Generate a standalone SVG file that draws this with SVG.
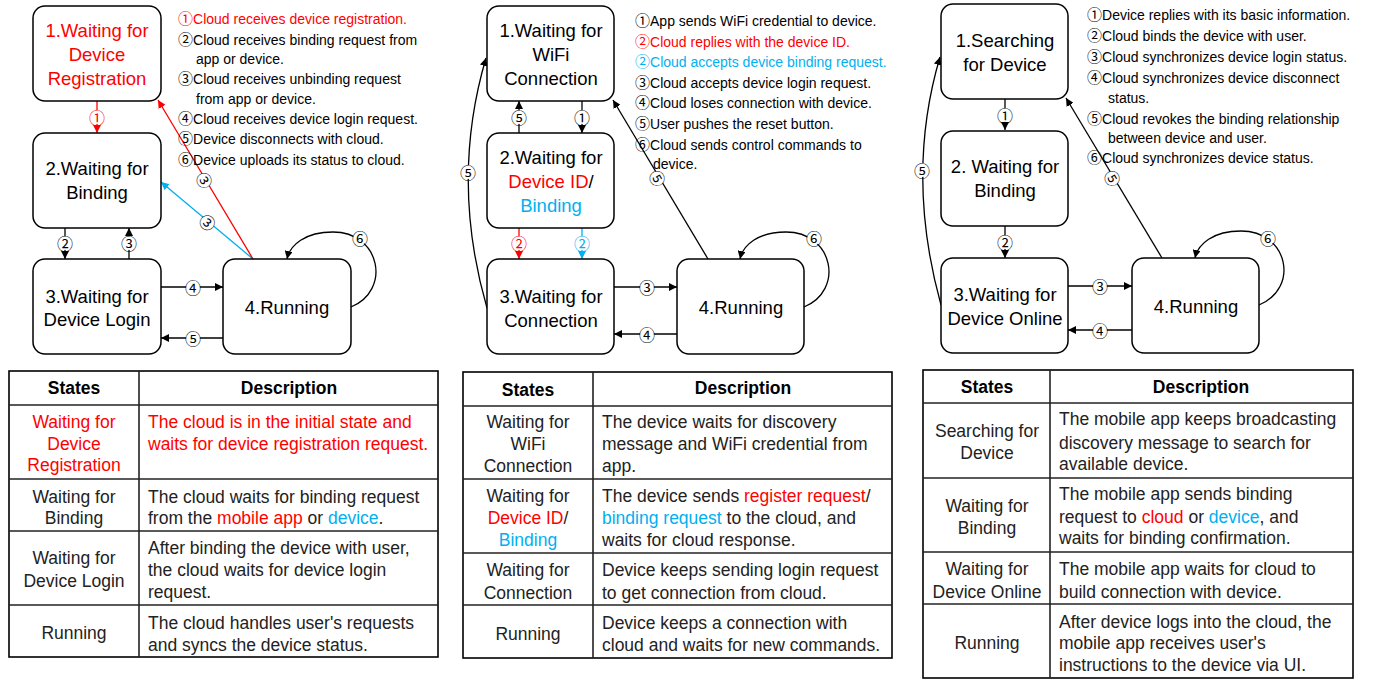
<svg xmlns="http://www.w3.org/2000/svg" width="1376" height="679" viewBox="0 0 1376 679">
<defs>
<style>
.node rect{fill:#fff;stroke:#000;stroke-width:1.5}
.nt{font-family:"Liberation Sans","Noto Sans CJK SC",sans-serif;font-size:18.5px;text-anchor:middle;fill:#000}
.an{font-family:"Liberation Sans","Noto Sans CJK SC",sans-serif;font-size:14px;fill:#000}
.cd{font-family:"Noto Sans CJK SC",sans-serif;font-size:15px}
.lb{font-family:"Noto Sans CJK SC","DejaVu Sans",sans-serif;font-size:16px;text-anchor:middle;dominant-baseline:central;fill:#000}
.lbg{fill:#fff;stroke:none}
.c{stroke:#000;stroke-width:1.3;fill:none}
.cr{stroke:#f00}
.cb{stroke:#00b0f0}
.tt{font-family:"Liberation Sans","Noto Sans CJK SC",sans-serif;font-size:17.5px;fill:#222}
.tc{text-anchor:middle}
.th{font-family:"Liberation Sans",sans-serif;font-size:17.5px;font-weight:bold;fill:#000;text-anchor:middle}
.tb{fill:none;stroke:#000;stroke-width:1.6}
.tl{stroke:#222;stroke-width:1.6}
.red{fill:#f00}
.blue{fill:#00b0f0}
</style>
<marker id="ak" viewBox="0 0 8 8" refX="8" refY="4" markerWidth="8" markerHeight="8" markerUnits="userSpaceOnUse" orient="auto"><path d="M0,0 L8,4 L0,8 z" fill="#000"/></marker>
<marker id="ar" viewBox="0 0 8 8" refX="8" refY="4" markerWidth="8" markerHeight="8" markerUnits="userSpaceOnUse" orient="auto"><path d="M0,0 L8,4 L0,8 z" fill="#f00"/></marker>
<marker id="ab" viewBox="0 0 8 8" refX="8" refY="4" markerWidth="8" markerHeight="8" markerUnits="userSpaceOnUse" orient="auto"><path d="M0,0 L8,4 L0,8 z" fill="#00b0f0"/></marker>
</defs>
<rect width="1376" height="679" fill="#fff"/>

<!-- ============ LEFT DIAGRAM ============ -->
<g id="connectors-left">
<line class="c cr" x1="97" y1="101" x2="97" y2="133" marker-end="url(#ar)"/>
<line class="c" x1="65" y1="228" x2="65" y2="259" marker-end="url(#ak)"/>
<line class="c" x1="129" y1="259" x2="129" y2="228" marker-end="url(#ak)"/>
<line class="c" x1="161" y1="287" x2="223" y2="287" marker-end="url(#ak)"/>
<line class="c" x1="223" y1="338" x2="161" y2="338" marker-end="url(#ak)"/>
<path class="c" d="M351,307 C392,290 380,232 333,232 C305,232 290,245 287,259" marker-end="url(#ak)"/>
<line class="c cb" x1="253" y1="259" x2="161" y2="182" marker-end="url(#ab)"/>
<line class="c cr" x1="253" y1="259" x2="158" y2="100" marker-end="url(#ar)"/>
<circle class="lbg" cx="97" cy="117" r="7"/><text class="lb red" x="97" y="117">①</text>
<circle class="lbg" cx="65" cy="243" r="7"/><text class="lb" x="65" y="243">②</text>
<circle class="lbg" cx="129" cy="243" r="7"/><text class="lb" x="129" y="243">③</text>
<circle class="lbg" cx="193" cy="287" r="7"/><text class="lb" x="193" y="287">④</text>
<circle class="lbg" cx="193" cy="338" r="7"/><text class="lb" x="193" y="338">⑤</text>
<circle class="lbg" cx="360" cy="238" r="7"/><text class="lb" x="360" y="238">⑥</text>
<circle class="lbg" cx="208" cy="222" r="7"/><text class="lb" x="208" y="222" transform="rotate(40 208 222)">③</text>
<circle class="lbg" cx="205" cy="180" r="7"/><text class="lb" x="205" y="180" transform="rotate(59 205 180)">③</text>
</g>
<g id="L1" class="node"><rect x="33" y="6" width="128" height="95" rx="12"/>
<text class="nt red" x="97" y="36.5">1.Waiting for</text><text class="nt red" x="97" y="60.5">Device</text><text class="nt red" x="97" y="84.5">Registration</text></g>
<g id="L2" class="node"><rect x="33" y="133" width="128" height="95" rx="12"/>
<text class="nt" x="97" y="174.5">2.Waiting for</text><text class="nt" x="97" y="198.5">Binding</text></g>
<g id="L3" class="node"><rect x="33" y="259" width="128" height="95" rx="12"/>
<text class="nt" x="97" y="302.5">3.Waiting for</text><text class="nt" x="97" y="325.5">Device Login</text></g>
<g id="L4" class="node"><rect x="223" y="259" width="128" height="95" rx="12"/>
<text class="nt" x="287" y="313.5">4.Running</text></g>
<g id="notes-left">
<text class="an red" x="178" y="24"><tspan class="cd">①</tspan>Cloud receives device registration.</text>
<text class="an" x="178" y="45"><tspan class="cd">②</tspan>Cloud receives binding request from</text>
<text class="an" x="196" y="64">app or device.</text>
<text class="an" x="178" y="84"><tspan class="cd">③</tspan>Cloud receives unbinding request</text>
<text class="an" x="196" y="104">from app or device.</text>
<text class="an" x="178" y="124"><tspan class="cd">④</tspan>Cloud receives device login request.</text>
<text class="an" x="178" y="144"><tspan class="cd">⑤</tspan>Device disconnects with cloud.</text>
<text class="an" x="178" y="165"><tspan class="cd">⑥</tspan>Device uploads its status to cloud.</text>
</g>

<!-- ============ MIDDLE DIAGRAM ============ -->
<g id="connectors-middle">
<line class="c" x1="519" y1="133" x2="519" y2="101" marker-end="url(#ak)"/>
<line class="c" x1="582" y1="101" x2="582" y2="133" marker-end="url(#ak)"/>
<line class="c cr" x1="519" y1="228" x2="519" y2="259" marker-end="url(#ar)"/>
<line class="c cb" x1="582" y1="228" x2="582" y2="259" marker-end="url(#ab)"/>
<line class="c" x1="614" y1="287" x2="677" y2="287" marker-end="url(#ak)"/>
<line class="c" x1="677" y1="334" x2="614" y2="334" marker-end="url(#ak)"/>
<path class="c" d="M804,307 C845,290 833,232 786,232 C758,232 743,245 740,259" marker-end="url(#ak)"/>
<path class="c" d="M487,308 Q450,180 486,58" marker-end="url(#ak)"/>
<line class="c" x1="708" y1="259" x2="613" y2="100" marker-end="url(#ak)"/>
<circle class="lbg" cx="519" cy="117" r="7"/><text class="lb" x="519" y="117">⑤</text>
<circle class="lbg" cx="582" cy="117" r="7"/><text class="lb" x="582" y="117">①</text>
<circle class="lbg" cx="519" cy="243" r="7"/><text class="lb red" x="519" y="243">②</text>
<circle class="lbg" cx="582" cy="243" r="7"/><text class="lb blue" x="582" y="243">②</text>
<circle class="lbg" cx="647" cy="287" r="7"/><text class="lb" x="647" y="287">③</text>
<circle class="lbg" cx="647" cy="334" r="7"/><text class="lb" x="647" y="334">④</text>
<circle class="lbg" cx="814" cy="238" r="7"/><text class="lb" x="814" y="238">⑥</text>
<circle class="lbg" cx="468" cy="172" r="7"/><text class="lb" x="468" y="172">⑤</text>
<circle class="lbg" cx="658" cy="178" r="7"/><text class="lb" x="658" y="178" transform="rotate(59 658 178)">⑤</text>
</g>
<g id="M1" class="node"><rect x="487" y="6" width="127" height="95" rx="12"/>
<text class="nt" x="551" y="36.5">1.Waiting for</text><text class="nt" x="551" y="60.5">WiFi</text><text class="nt" x="551" y="84.5">Connection</text></g>
<g id="M2" class="node"><rect x="487" y="133" width="127" height="95" rx="12"/>
<text class="nt" x="551" y="163.5">2.Waiting for</text><text class="nt" x="551" y="187.5"><tspan class="red">Device ID</tspan>/</text><text class="nt blue" x="551" y="211.5">Binding</text></g>
<g id="M3" class="node"><rect x="487" y="259" width="127" height="95" rx="12"/>
<text class="nt" x="551" y="302.5">3.Waiting for</text><text class="nt" x="551" y="326.5">Connection</text></g>
<g id="M4" class="node"><rect x="677" y="259" width="127" height="95" rx="12"/>
<text class="nt" x="741" y="313.5">4.Running</text></g>
<g id="notes-middle">
<text class="an" x="635" y="26"><tspan class="cd">①</tspan>App sends WiFi credential to device.</text>
<text class="an red" x="635" y="47"><tspan class="cd">②</tspan>Cloud replies with the device ID.</text>
<text class="an blue" x="635" y="67"><tspan class="cd">②</tspan>Cloud accepts device binding request.</text>
<text class="an" x="635" y="88"><tspan class="cd">③</tspan>Cloud accepts device login request.</text>
<text class="an" x="635" y="108"><tspan class="cd">④</tspan>Cloud loses connection with device.</text>
<text class="an" x="635" y="129"><tspan class="cd">⑤</tspan>User pushes the reset button.</text>
<text class="an" x="635" y="150"><tspan class="cd">⑥</tspan>Cloud sends control commands to</text>
<text class="an" x="653" y="169">device.</text>
</g>

<!-- ============ RIGHT DIAGRAM ============ -->
<g id="connectors-right">
<line class="c" x1="1005" y1="99" x2="1005" y2="130" marker-end="url(#ak)"/>
<line class="c" x1="1005" y1="226" x2="1005" y2="258" marker-end="url(#ak)"/>
<line class="c" x1="1068" y1="286" x2="1132" y2="286" marker-end="url(#ak)"/>
<line class="c" x1="1132" y1="330" x2="1068" y2="330" marker-end="url(#ak)"/>
<path class="c" d="M1259,305 C1300,288 1288,231 1241,231 C1213,231 1198,244 1195,258" marker-end="url(#ak)"/>
<path class="c" d="M941,305 Q905,175 940,57" marker-end="url(#ak)"/>
<line class="c" x1="1162" y1="258" x2="1066" y2="98" marker-end="url(#ak)"/>
<circle class="lbg" cx="1005" cy="115" r="7"/><text class="lb" x="1005" y="115">①</text>
<circle class="lbg" cx="1005" cy="242" r="7"/><text class="lb" x="1005" y="242">②</text>
<circle class="lbg" cx="1100" cy="286" r="7"/><text class="lb" x="1100" y="286">③</text>
<circle class="lbg" cx="1100" cy="330" r="7"/><text class="lb" x="1100" y="330">④</text>
<circle class="lbg" cx="1268" cy="238" r="7"/><text class="lb" x="1268" y="238">⑥</text>
<circle class="lbg" cx="922" cy="170" r="7"/><text class="lb" x="922" y="170">⑤</text>
<circle class="lbg" cx="1113" cy="178" r="7"/><text class="lb" x="1113" y="178" transform="rotate(59 1113 178)">⑤</text>
</g>
<g id="R1" class="node"><rect x="941" y="4" width="127" height="95" rx="12"/>
<text class="nt" x="1005" y="46.5">1.Searching</text><text class="nt" x="1005" y="70.5">for Device</text></g>
<g id="R2" class="node"><rect x="941" y="131" width="127" height="95" rx="12"/>
<text class="nt" x="1005" y="172.5">2. Waiting for</text><text class="nt" x="1005" y="196.5">Binding</text></g>
<g id="R3" class="node"><rect x="941" y="258" width="127" height="95" rx="12"/>
<text class="nt" x="1005" y="300.5">3.Waiting for</text><text class="nt" x="1005" y="324.5">Device Online</text></g>
<g id="R4" class="node"><rect x="1132" y="258" width="127" height="95" rx="12"/>
<text class="nt" x="1196" y="312.5">4.Running</text></g>
<g id="notes-right">
<text class="an" x="1087" y="20"><tspan class="cd">①</tspan>Device replies with its basic information.</text>
<text class="an" x="1087" y="41"><tspan class="cd">②</tspan>Cloud binds the device with user.</text>
<text class="an" x="1087" y="62"><tspan class="cd">③</tspan>Cloud synchronizes device login status.</text>
<text class="an" x="1087" y="83"><tspan class="cd">④</tspan>Cloud synchronizes device disconnect</text>
<text class="an" x="1108" y="103">status.</text>
<text class="an" x="1087" y="124"><tspan class="cd">⑤</tspan>Cloud revokes the binding relationship</text>
<text class="an" x="1108" y="143">between device and user.</text>
<text class="an" x="1087" y="163"><tspan class="cd">⑥</tspan>Cloud synchronizes device status.</text>
</g>

<!-- ============ LEFT TABLE ============ -->
<g id="table-left">
<rect class="tb" x="9" y="371" width="429" height="286"/>
<line class="tl" x1="139" y1="371" x2="139" y2="657"/>
<line class="tl" x1="9" y1="405" x2="438" y2="405"/>
<line class="tl" x1="9" y1="479" x2="438" y2="479"/>
<line class="tl" x1="9" y1="531" x2="438" y2="531"/>
<line class="tl" x1="9" y1="605" x2="438" y2="605"/>
<text class="th" x="74" y="394">States</text>
<text class="th" x="289" y="394">Description</text>
<text class="tt tc red" x="74" y="428">Waiting for</text>
<text class="tt tc red" x="74" y="450">Device</text>
<text class="tt tc red" x="74" y="471">Registration</text>
<text class="tt red" x="148" y="428">The cloud is in the initial state and</text>
<text class="tt red" x="148" y="450">waits for device registration request.</text>
<text class="tt tc" x="74" y="503">Waiting for</text>
<text class="tt tc" x="74" y="524">Binding</text>
<text class="tt" x="148" y="503">The cloud waits for binding request</text>
<text class="tt" x="148" y="524">from the <tspan class="red">mobile app</tspan> or <tspan class="blue">device</tspan>.</text>
<text class="tt tc" x="74" y="564">Waiting for</text>
<text class="tt tc" x="74" y="587">Device Login</text>
<text class="tt" x="148" y="554">After binding the device with user,</text>
<text class="tt" x="148" y="576">the cloud waits for device login</text>
<text class="tt" x="148" y="598">request.</text>
<text class="tt tc" x="74" y="639">Running</text>
<text class="tt" x="148" y="629">The cloud handles user's requests</text>
<text class="tt" x="148" y="651">and syncs the device status.</text>
</g>

<!-- ============ MIDDLE TABLE ============ -->
<g id="table-middle">
<rect class="tb" x="463" y="372" width="429" height="286"/>
<line class="tl" x1="593" y1="372" x2="593" y2="658"/>
<line class="tl" x1="463" y1="406" x2="892" y2="406"/>
<line class="tl" x1="463" y1="479" x2="892" y2="479"/>
<line class="tl" x1="463" y1="553" x2="892" y2="553"/>
<line class="tl" x1="463" y1="605" x2="892" y2="605"/>
<text class="th" x="528" y="396">States</text>
<text class="th" x="743" y="394">Description</text>
<text class="tt tc" x="528" y="428">Waiting for</text>
<text class="tt tc" x="528" y="450">WiFi</text>
<text class="tt tc" x="528" y="472">Connection</text>
<text class="tt" x="602" y="428">The device waits for discovery</text>
<text class="tt" x="602" y="450">message and WiFi credential from</text>
<text class="tt" x="602" y="472">app.</text>
<text class="tt tc" x="528" y="502">Waiting for</text>
<text class="tt tc" x="528" y="524"><tspan class="red">Device ID</tspan>/</text>
<text class="tt tc blue" x="528" y="546">Binding</text>
<text class="tt" x="602" y="502">The device sends <tspan class="red">register request</tspan>/</text>
<text class="tt" x="602" y="524"><tspan class="blue">binding request</tspan> to the cloud, and</text>
<text class="tt" x="602" y="546">waits for cloud response.</text>
<text class="tt tc" x="528" y="576">Waiting for</text>
<text class="tt tc" x="528" y="599">Connection</text>
<text class="tt" x="602" y="576">Device keeps sending login request</text>
<text class="tt" x="602" y="599">to get connection from cloud.</text>
<text class="tt tc" x="528" y="640">Running</text>
<text class="tt" x="602" y="629">Device keeps a connection with</text>
<text class="tt" x="602" y="651">cloud and waits for new commands.</text>
</g>

<!-- ============ RIGHT TABLE ============ -->
<g id="table-right">
<rect class="tb" x="923" y="370" width="430" height="308"/>
<line class="tl" x1="1050" y1="370" x2="1050" y2="678"/>
<line class="tl" x1="923" y1="403" x2="1353" y2="403"/>
<line class="tl" x1="923" y1="478" x2="1353" y2="478"/>
<line class="tl" x1="923" y1="552" x2="1353" y2="552"/>
<line class="tl" x1="923" y1="604" x2="1353" y2="604"/>
<text class="th" x="987" y="393">States</text>
<text class="th" x="1201" y="393">Description</text>
<text class="tt tc" x="987" y="437">Searching for</text>
<text class="tt tc" x="987" y="459">Device</text>
<text class="tt" x="1059" y="425">The mobile app keeps broadcasting</text>
<text class="tt" x="1059" y="449">discovery message to search for</text>
<text class="tt" x="1059" y="470">available device.</text>
<text class="tt tc" x="987" y="512">Waiting for</text>
<text class="tt tc" x="987" y="534">Binding</text>
<text class="tt" x="1059" y="500">The mobile app sends binding</text>
<text class="tt" x="1059" y="523">request to <tspan class="red">cloud</tspan> or <tspan class="blue">device</tspan>, and</text>
<text class="tt" x="1059" y="544">waits for binding confirmation.</text>
<text class="tt tc" x="987" y="575">Waiting for</text>
<text class="tt tc" x="987" y="598">Device Online</text>
<text class="tt" x="1059" y="575">The mobile app waits for cloud to</text>
<text class="tt" x="1059" y="598">build connection with device.</text>
<text class="tt tc" x="987" y="649">Running</text>
<text class="tt" x="1059" y="628">After device logs into the cloud, the</text>
<text class="tt" x="1059" y="649">mobile app receives user's</text>
<text class="tt" x="1059" y="671">instructions to the device via UI.</text>
</g>
</svg>
